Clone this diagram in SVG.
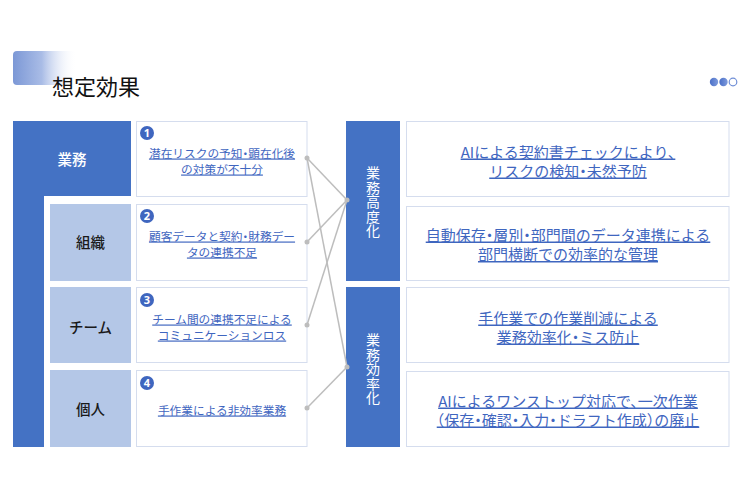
<svg xmlns="http://www.w3.org/2000/svg" width="750" height="500" viewBox="0 0 750 500">
<defs>
<linearGradient id="tg" x1="0" y1="0" x2="1" y2="0">
<stop offset="0" stop-color="#7C98D6"/>
<stop offset="0.45" stop-color="#A9BCE6"/>
<stop offset="1" stop-color="#FFFFFF" stop-opacity="0"/>
</linearGradient>
<linearGradient id="dg" x1="0" y1="0" x2="1" y2="0">
<stop offset="0" stop-color="#4A6FC8"/>
<stop offset="1" stop-color="#7E9BDC"/>
</linearGradient>
<style>
text{font-family:"Noto Sans CJK JP","Noto Sans",sans-serif}
.dark{fill:#4472C4}
.light{fill:#B4C7E7}
.box{fill:#FFFFFF;stroke:#D5DDEE;stroke-width:1}
.lbw{fill:#FFFFFF;font-size:14.5px;font-weight:500;text-anchor:middle}
.lbk{fill:#1A1A1A;font-size:14.5px;font-weight:500;text-anchor:middle}
.lt{fill:#3F66BF;font-size:11.7px;text-anchor:middle;text-decoration:underline;font-feature-settings:"halt"}
.rt{fill:#3F66BF;font-size:15px;text-anchor:middle;text-decoration:underline;font-feature-settings:"halt"}
.vt{fill:#FFFFFF;font-size:14px;text-anchor:middle;writing-mode:vertical-rl;letter-spacing:0.5px}
.num{fill:#FFFFFF;font-size:11px;font-weight:bold;text-anchor:middle;font-family:"Noto Sans","DejaVu Sans",sans-serif}
.badge{fill:#3F66BF}
.cn{stroke:#BDBDBD;stroke-width:1.5;fill:none}
.cd{fill:#BDBDBD}
</style>
</defs>
<rect width="750" height="500" fill="#FFFFFF"/>
<g id="title">
<rect x="13" y="51" width="64" height="34" rx="4" fill="url(#tg)"/>
<text x="52" y="95" font-size="22" fill="#111111">想定効果</text>
</g>
<g id="dots">
<circle cx="714" cy="82" r="4.2" fill="url(#dg)"/>
<circle cx="723.5" cy="82" r="4.2" fill="url(#dg)"/>
<circle cx="733" cy="82" r="3.8" fill="#FFFFFF" stroke="#6F8ED6" stroke-width="1.2"/>
</g>
<g id="left-frame">
<rect class="dark" x="13" y="121" width="118" height="75"/>
<rect class="dark" x="13" y="196" width="31" height="251"/>
<text class="lbw" x="72" y="165">業務</text>
</g>
<g id="org">
<rect class="light" x="50" y="204" width="81" height="77"/>
<text class="lbk" x="90.5" y="248">組織</text>
</g>
<g id="team">
<rect class="light" x="50" y="287" width="81" height="76"/>
<text class="lbk" x="90.5" y="333">チーム</text>
</g>
<g id="indiv">
<rect class="light" x="50" y="370" width="81" height="77"/>
<text class="lbk" x="90.5" y="415">個人</text>
</g>
<g id="issue1">
<rect class="box" x="136.5" y="121.5" width="170.5" height="75"/>
<circle class="badge" cx="147" cy="133" r="7"/>
<text class="num" x="147" y="137">1</text>
<text class="lt" x="222" y="157.5">潜在リスクの予知・顕在化後</text>
<text class="lt" x="222" y="173.5">の対策が不十分</text>
</g>
<g id="issue2">
<rect class="box" x="136.5" y="204.5" width="170.5" height="76"/>
<circle class="badge" cx="147" cy="216" r="7"/>
<text class="num" x="147" y="220">2</text>
<text class="lt" x="222" y="240.5">顧客データと契約・財務デー</text>
<text class="lt" x="222" y="256.5">タの連携不足</text>
</g>
<g id="issue3">
<rect class="box" x="136.5" y="287.5" width="170.5" height="75"/>
<circle class="badge" cx="147" cy="300" r="7"/>
<text class="num" x="147" y="304">3</text>
<text class="lt" x="222" y="323.5">チーム間の連携不足による</text>
<text class="lt" x="222" y="339.5">コミュニケーションロス</text>
</g>
<g id="issue4">
<rect class="box" x="136.5" y="370.5" width="170.5" height="76"/>
<circle class="badge" cx="147" cy="383" r="7"/>
<text class="num" x="147" y="387">4</text>
<text class="lt" x="222" y="414.5">手作業による非効率業務</text>
</g>
<g id="adv">
<rect class="dark" x="346" y="121" width="54" height="160"/>
<text class="vt" x="373" y="202">業務高度化</text>
</g>
<g id="eff">
<rect class="dark" x="346" y="287" width="54" height="160"/>
<text class="vt" x="373" y="369">業務効率化</text>
</g>
<g id="effect1">
<rect class="box" x="406.5" y="121.5" width="322.5" height="75"/>
<text class="rt" x="568" y="157.5">AIによる契約書チェックにより、</text>
<text class="rt" x="568" y="176.5">リスクの検知・未然予防</text>
</g>
<g id="effect2">
<rect class="box" x="406.5" y="206.5" width="322.5" height="74"/>
<text class="rt" x="568" y="240.5">自動保存・層別・部門間のデータ連携による</text>
<text class="rt" x="568" y="260">部門横断での効率的な管理</text>
</g>
<g id="effect3">
<rect class="box" x="406.5" y="287.5" width="322.5" height="75"/>
<text class="rt" x="568" y="323.5">手作業での作業削減による</text>
<text class="rt" x="568" y="342.5">業務効率化・ミス防止</text>
</g>
<g id="effect4">
<rect class="box" x="406.5" y="371.5" width="322.5" height="75"/>
<text class="rt" x="568" y="406.5">AIによるワンストップ対応で、一次作業</text>
<text class="rt" x="568" y="425.5">（保存・確認・入力・ドラフト作成）の廃止</text>
</g>
<g id="connectors">
<line class="cn" x1="307" y1="158" x2="347" y2="200"/>
<line class="cn" x1="307" y1="158" x2="347" y2="367"/>
<line class="cn" x1="307" y1="242" x2="347" y2="200"/>
<line class="cn" x1="307" y1="325" x2="347" y2="200"/>
<line class="cn" x1="307" y1="408" x2="347" y2="367"/>
<circle class="cd" cx="307" cy="158" r="2.5"/>
<circle class="cd" cx="307" cy="242" r="2.5"/>
<circle class="cd" cx="307" cy="325" r="2.5"/>
<circle class="cd" cx="307" cy="408" r="2.5"/>
<circle class="cd" cx="347" cy="200" r="2.5"/>
<circle class="cd" cx="347" cy="367" r="2.5"/>
</g>
</svg>
